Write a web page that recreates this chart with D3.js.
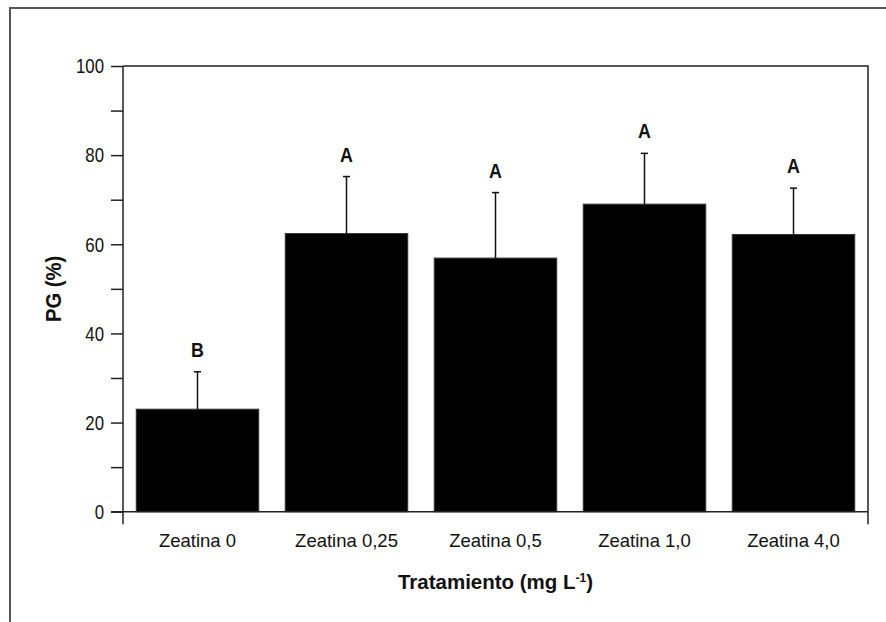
<!DOCTYPE html>
<html>
<head>
<meta charset="UTF-8"/>
<script src="https://d3js.org/d3.v7.min.js"></script>
<style>
body { margin: 0; background: #fff; }
text { fill: #111; }
</style>
</head>
<body>
<div id="chart"></div>
<script>
// data
var categories = ["Zeatina 0", "Zeatina 0,25", "Zeatina 0,5", "Zeatina 1,0", "Zeatina 4,0"];
var means = [23.0, 62.4, 56.9, 69.0, 62.2];
var upperErr = [31.4, 75.2, 71.6, 80.4, 72.6];
var letters = ["B", "A", "A", "A", "A"];
var yTicks = [0, 20, 40, 60, 80, 100];
var yMinor = [10, 30, 50, 70, 90];

var W = 886, H = 622;
var plotL = 123, plotR = 868, plotT = 66, plotB = 511.7;
var FONT = "'Liberation Sans', Arial, sans-serif";

// squeeze text horizontally to imitate the condensed face of the original
function condense(sel, k) {
	sel.each(function() {
		var w = this.getComputedTextLength();
		d3.select(this)
			.attr("textLength", w * k)
			.attr("lengthAdjust", "spacingAndGlyphs");
	});
}

var svg = d3.select("#chart").append("svg")
	.attr("width", W)
	.attr("height", H);

// outer frame (top and left only are visible)
svg.append("path")
	.attr("d", "M10,622 L10,8 L886,8")
	.attr("fill", "none")
	.attr("stroke", "#555")
	.attr("stroke-width", 2);

var x = d3.scaleBand()
	.domain(categories)
	.range([plotL, plotR])
	.paddingInner(0.178)
	.paddingOuter(0.089);

var y = d3.scaleLinear()
	.domain([0, 100])
	.range([plotB, plotT]);

// bars
svg.selectAll("rect.bar")
	.data(categories)
	.enter().append("rect")
	.attr("class", "bar")
	.attr("x", function(d) { return x(d); })
	.attr("y", function(d, i) { return y(means[i]); })
	.attr("width", x.bandwidth())
	.attr("height", function(d, i) { return y(0) - y(means[i]); })
	.attr("fill", "#000")
	.attr("stroke", "#333")
	.attr("stroke-width", 1);

// error bars (upper only) + letters
categories.forEach(function(c, i) {
	var cx = x(c) + x.bandwidth() / 2;
	svg.append("line")
		.attr("x1", cx).attr("x2", cx)
		.attr("y1", y(means[i])).attr("y2", y(upperErr[i]))
		.attr("stroke", "#111").attr("stroke-width", 1.5);
	svg.append("line")
		.attr("x1", cx - 3.5).attr("x2", cx + 3.5)
		.attr("y1", y(upperErr[i])).attr("y2", y(upperErr[i]))
		.attr("stroke", "#111").attr("stroke-width", 1.5);
	svg.append("text")
		.attr("class", "letter")
		.attr("x", cx)
		.attr("y", y(upperErr[i]) - 15)
		.attr("text-anchor", "middle")
		.style("font-family", FONT)
		.style("font-weight", "bold")
		.style("font-size", "21px")
		.text(letters[i]);
});
condense(svg.selectAll("text.letter"), 0.85);

// plot box: top and right lines
svg.append("path")
	.attr("d", "M" + plotL + "," + plotT + " L" + plotR + "," + plotT + " L" + plotR + "," + (plotB + 12.5))
	.attr("fill", "none")
	.attr("stroke", "#222")
	.attr("stroke-width", 1.5);

// y axis
var yAxis = d3.axisLeft(y)
	.tickValues(yTicks)
	.tickSize(12)
	.tickPadding(7);
var gy = svg.append("g")
	.attr("transform", "translate(" + plotL + ",0)")
	.call(yAxis);
gy.select(".domain").remove();
gy.selectAll("line").attr("stroke", "#222").attr("stroke-width", 1.5);
gy.selectAll("text")
	.style("font-family", FONT)
	.style("font-size", "21px")
	.attr("fill", "#111");
condense(gy.selectAll("text"), 0.8);

var gyMinor = svg.append("g")
	.attr("transform", "translate(" + plotL + ",0)")
	.call(d3.axisLeft(y).tickValues(yMinor).tickSize(12).tickFormat(""));
gyMinor.select(".domain").remove();
gyMinor.selectAll("line").attr("stroke", "#222").attr("stroke-width", 1.5);

// y axis line, extends below zero
svg.append("line")
	.attr("x1", plotL).attr("x2", plotL)
	.attr("y1", plotT).attr("y2", plotB + 12.5)
	.attr("stroke", "#222").attr("stroke-width", 1.5);

// x axis line
svg.append("line")
	.attr("x1", plotL - 12).attr("x2", plotR)
	.attr("y1", plotB).attr("y2", plotB)
	.attr("stroke", "#222").attr("stroke-width", 1.5);

// category labels
var gx = svg.append("g")
	.attr("transform", "translate(0," + plotB + ")")
	.call(d3.axisBottom(x).tickSize(0).tickPadding(22));
gx.select(".domain").remove();
gx.selectAll("text")
	.style("font-family", FONT)
	.style("font-size", "18.5px")
	.attr("fill", "#111");

// axis titles
var xt = svg.append("text")
	.attr("x", (plotL + plotR) / 2)
	.attr("y", 589)
	.attr("text-anchor", "middle")
	.style("font-family", FONT)
	.style("font-weight", "bold")
	.style("font-size", "20.5px");
xt.append("tspan").text("Tratamiento (mg L");
xt.append("tspan").attr("dy", -7).style("font-size", "12px").text("-1");
xt.append("tspan").attr("dy", 7).text(")");

var yt = svg.append("text")
	.attr("transform", "translate(61," + ((plotT + plotB) / 2) + ") rotate(-90)")
	.attr("text-anchor", "middle")
	.style("font-family", FONT)
	.style("font-weight", "bold")
	.style("font-size", "22.5px")
	.text("PG (%)");
condense(yt, 0.9);
</script>
</body>
</html>
